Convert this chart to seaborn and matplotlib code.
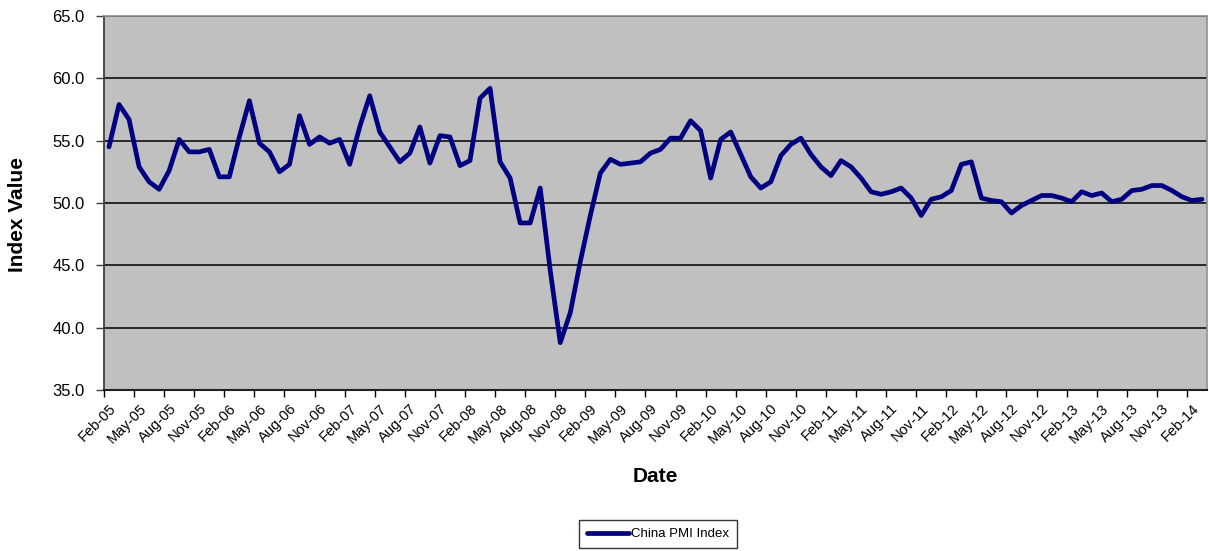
import matplotlib
matplotlib.use("Agg")
import matplotlib.pyplot as plt
import seaborn as sns
import pandas as pd
import numpy as np

# ---- data (Feb-05 .. Mar-14, monthly) ----
start_month = "2005-02"
pmi_values = [
    54.5, 57.9, 56.7, 52.9, 51.7, 51.1, 52.6, 55.1, 54.1, 54.1, 54.3,          # 2005 Feb-Dec
    52.1, 52.1, 55.3, 58.2, 54.8, 54.1, 52.5, 53.1, 57.0, 54.7, 55.3, 54.8,    # 2006
    55.1, 53.1, 56.1, 58.6, 55.7, 54.5, 53.3, 54.0, 56.1, 53.2, 55.4, 55.3,    # 2007
    53.0, 53.4, 58.4, 59.2, 53.3, 52.0, 48.4, 48.4, 51.2, 44.6, 38.8, 41.2,    # 2008
    45.3, 49.0, 52.4, 53.5, 53.1, 53.2, 53.3, 54.0, 54.3, 55.2, 55.2, 56.6,    # 2009
    55.8, 52.0, 55.1, 55.7, 53.9, 52.1, 51.2, 51.7, 53.8, 54.7, 55.2, 53.9,    # 2010
    52.9, 52.2, 53.4, 52.9, 52.0, 50.9, 50.7, 50.9, 51.2, 50.4, 49.0, 50.3,    # 2011
    50.5, 51.0, 53.1, 53.3, 50.4, 50.2, 50.1, 49.2, 49.8, 50.2, 50.6, 50.6,    # 2012
    50.4, 50.1, 50.9, 50.6, 50.8, 50.1, 50.3, 51.0, 51.1, 51.4, 51.4, 51.0,    # 2013
    50.5, 50.2, 50.3,                                                          # 2014 Jan-Mar
]
series_name = "China PMI Index"
y_ticks = [35.0, 40.0, 45.0, 50.0, 55.0, 60.0, 65.0]
label_every = 3

dates = pd.period_range(start=start_month, periods=len(pmi_values), freq="M")
date_labels = [d.strftime("%b-%y") for d in dates]
df = pd.DataFrame({"idx": np.arange(len(pmi_values)), "value": pmi_values,
                   "date": date_labels})

# ---- style ----
sns.set_style("white")
plt.rcParams["font.family"] = ["Liberation Sans", "DejaVu Sans"]
plt.rcParams["text.color"] = "black"
plt.rcParams["axes.labelcolor"] = "black"

W, H = 1209, 551
fig = plt.figure(figsize=(W / 100, H / 100), dpi=100)
fig.patch.set_facecolor("white")
L, R, T, B = 104, 1207, 16, 390
ax = fig.add_axes([L / W, 1 - B / H, (R - L) / W, (B - T) / H])
ax.set_facecolor("#C0C0C0")

sns.lineplot(data=df, x="idx", y="value", color="#000080", linewidth=3.4,
             ax=ax, legend=False, label=series_name,
             solid_joinstyle="round", solid_capstyle="round", zorder=3)

n = len(pmi_values)
ax.set_xlim(-0.5, n - 0.5)
ax.set_ylim(y_ticks[0], y_ticks[-1])

# y axis
ax.set_yticks(y_ticks)
ax.set_yticklabels([f"{v:.1f}" for v in y_ticks])
ax.tick_params(axis="y", length=6, width=1, color="#404040", pad=8,
               labelsize=12, left=True, labelcolor="black")
ax.yaxis.grid(True, color="black", linewidth=1.1, zorder=1)
ax.set_axisbelow(True)

# x axis: labels at category centres, tick marks at category boundaries
major = list(range(0, n, label_every))
ax.set_xticks(major)
ax.set_xticklabels([date_labels[i] for i in major], rotation=45,
                   ha="right", rotation_mode="anchor")
ax.tick_params(axis="x", which="major", length=0, pad=8, labelsize=10.5,
               bottom=True, labelcolor="black")
ax.set_xticks([i - 0.5 for i in range(0, n, label_every)], minor=True)
ax.tick_params(axis="x", which="minor", length=5, width=1, color="black",
               bottom=True)
ax.xaxis.grid(False)

for s in ["top", "right"]:
    ax.spines[s].set_color("#909090")
    ax.spines[s].set_linewidth(1.2)
ax.spines["left"].set_color("#404040")
ax.spines["left"].set_linewidth(1.3)
ax.spines["bottom"].set_color("#202020")
ax.spines["bottom"].set_linewidth(1.5)

ax.set_ylabel("Index Value", fontsize=15, fontweight="bold", color="black")
ax.yaxis.set_label_coords((27 - L) / (R - L), 0.47)
ax.set_xlabel("Date", fontsize=15, fontweight="bold", color="black")
ax.xaxis.set_label_coords(0.5, -(467 - B) / (B - T))

handles, labels = ax.get_legend_handles_labels()
leg = fig.legend(handles, labels, loc="center",
                 bbox_to_anchor=(658 / W, 1 - 534 / H),
                 fontsize=9.5, frameon=True, fancybox=False, shadow=False,
                 edgecolor="black", handlelength=3.2, handletextpad=0.1,
                 borderpad=0.6, borderaxespad=0, labelcolor="black")
leg.get_frame().set_linewidth(1.0)

fig.savefig("out.png", dpi=100, facecolor="white")
